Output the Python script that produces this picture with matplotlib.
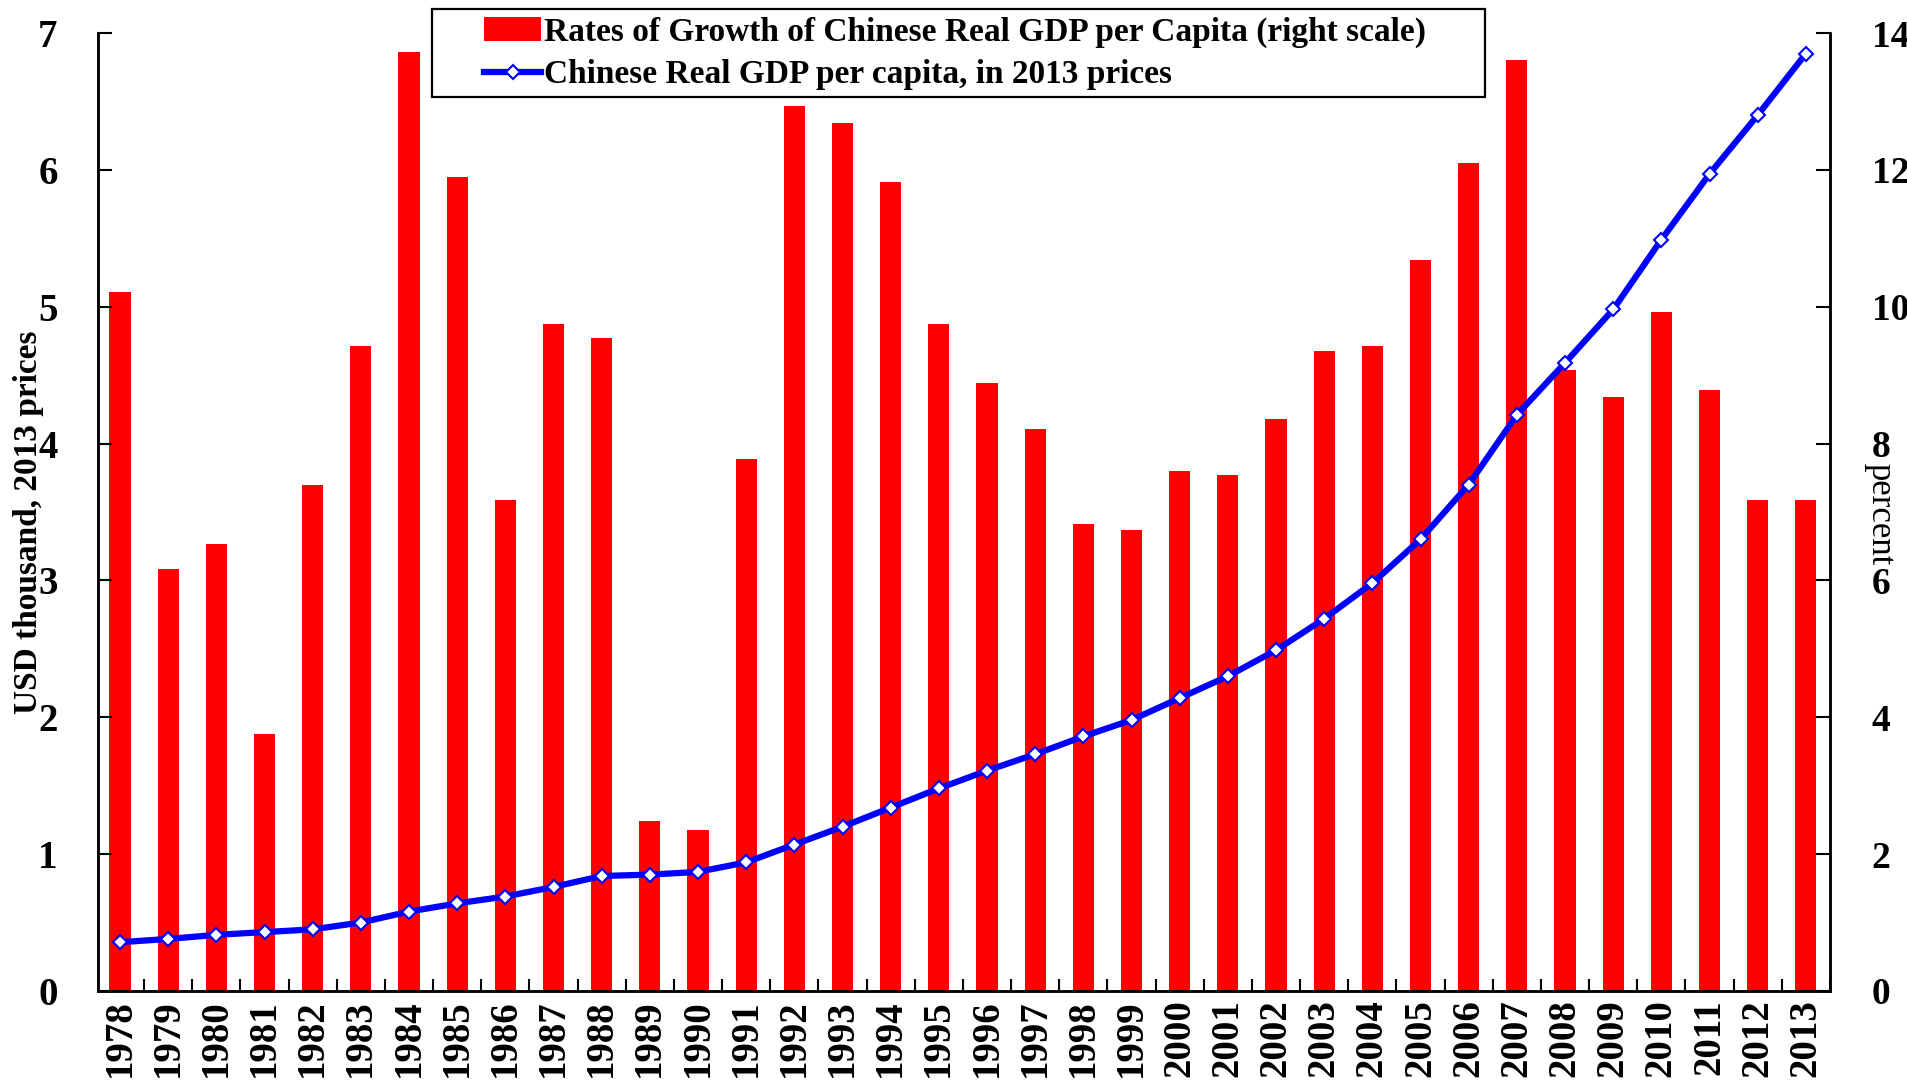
import matplotlib
matplotlib.use("Agg")
import matplotlib.pyplot as plt
from matplotlib.patches import Rectangle
import numpy as np

years = [str(y) for y in range(1978, 2014)]
growth_rates = [10.21, 6.17, 6.53, 3.75, 7.40, 9.43, 13.72, 11.90, 7.17, 9.75,
                9.54, 2.49, 2.35, 7.78, 12.94, 12.69, 11.83, 9.75, 8.88, 8.22,
                6.83, 6.74, 7.60, 7.54, 8.36, 9.36, 9.43, 10.68, 12.10, 13.61,
                9.07, 8.68, 9.93, 8.79, 7.17, 7.17]
gdp_per_capita = [0.356, 0.38, 0.41, 0.43, 0.45, 0.50, 0.58, 0.64, 0.69, 0.76,
                  0.84, 0.85, 0.87, 0.94, 1.07, 1.20, 1.34, 1.48, 1.61, 1.73,
                  1.86, 1.98, 2.14, 2.30, 2.49, 2.72, 2.98, 3.30, 3.70, 4.21,
                  4.59, 4.98, 5.49, 5.97, 6.40, 6.85]
left_ticks = [0, 1, 2, 3, 4, 5, 6, 7]
right_ticks = [0, 2, 4, 6, 8, 10, 12, 14]

label_bars = "Rates of Growth of Chinese Real GDP per Capita (right scale)"
label_line = "Chinese Real GDP per capita, in 2013 prices"

plt.rcParams['font.family'] = ['Liberation Serif', 'DejaVu Serif']
plt.rcParams['font.weight'] = 'bold'

fig = plt.figure(figsize=(19.07, 10.83), dpi=100)
ax1 = fig.add_axes([0.0514, 0.0850, 0.9082, 0.8845])
ax2 = ax1.twinx()

x = np.arange(len(years))
bars = ax2.bar(x, growth_rates, width=0.44, color='#FF0000', edgecolor='none',
               label=label_bars)
line, = ax1.plot(x, gdp_per_capita, color='#0000FF', lw=4.5, marker='D',
                 markersize=7.5, markerfacecolor='white', markeredgecolor='#0000FF',
                 markeredgewidth=1.5, label=label_line)

ax1.set_zorder(ax2.get_zorder() + 1)
ax1.patch.set_visible(False)

ax1.set_xlim(-0.457, 35.5)
ax1.set_ylim(0, 7)
ax2.set_ylim(0, 14)

ax1.set_yticks(left_ticks)
ax1.set_yticklabels([str(t) for t in left_ticks])
ax2.set_yticks(right_ticks)
ax2.set_yticklabels([str(t) for t in right_ticks])

ax1.set_xticks(np.arange(0.5, 35.6, 1.0))
ax1.set_xticklabels([])
ax1.set_xticks(x, minor=True)
ax1.set_xticklabels(years, minor=True, rotation=90, fontsize=28, fontweight='bold')
ax1.tick_params(axis='x', which='minor', length=0, pad=6)
ax1.tick_params(axis='x', which='major', direction='in', length=9, width=1.5)

ax1.tick_params(axis='y', direction='in', length=10, width=1.5, labelsize=28, pad=29)
ax2.tick_params(axis='y', direction='in', length=10, width=1.5, labelsize=27, pad=30)

for ax in (ax1, ax2):
    ax.spines['top'].set_visible(False)
    for s in ('left', 'right', 'bottom'):
        ax.spines[s].set_linewidth(1.8)

fig.text(0.0147, 0.518, "USD thousand, 2013 prices", rotation=90, fontsize=24,
         fontweight='bold', ha='center', va='center')
fig.text(0.986, 0.525, "percent", rotation=270, fontsize=25,
         fontweight='normal', ha='center', va='center')

# legend frame
frame = Rectangle((0.193, 0.933), 0.608, 0.0926, transform=ax1.transAxes,
                  facecolor='white', edgecolor='black', linewidth=1.6,
                  clip_on=False, zorder=4)
ax1.add_patch(frame)

leg = ax1.legend([bars, line], [label_bars, label_line], loc='center left',
                 bbox_to_anchor=(0.2229, 0.9786), prop={'size': 24, 'weight': 'bold'},
                 frameon=False, handlelength=1.71, handletextpad=0.1, borderpad=0,
                 labelspacing=0.35, borderaxespad=0)
leg.set_zorder(6)

fig.savefig("out.png", dpi=100)
